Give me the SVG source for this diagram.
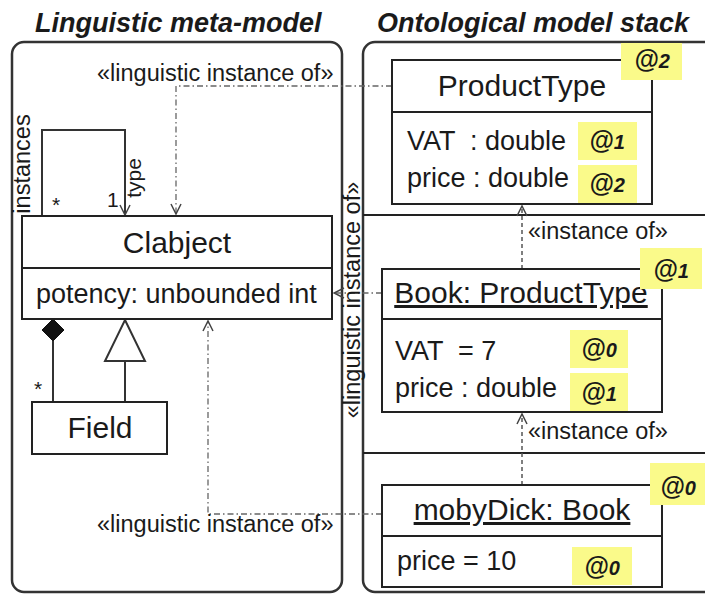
<svg xmlns="http://www.w3.org/2000/svg" width="705" height="594" viewBox="0 0 705 594">
<style>
text{font-family:"Liberation Sans",Arial,sans-serif;fill:#1a1a1a}
.title{font-size:27px;font-weight:bold;font-style:italic}
.cls{font-size:30px;text-anchor:middle}
.attr{font-size:27px;white-space:pre}
.st{font-size:23.5px}
.pot{font-size:25px;font-weight:bold;font-style:italic;text-anchor:middle}
.pot tspan{font-size:20px}
.small{font-size:21px}
.panel{fill:none;stroke:#333;stroke-width:2.5}
.box{fill:#fff;stroke:#222;stroke-width:2}
.div{stroke:#222;stroke-width:2}
.badge{fill:#fafa8a}
.ling{fill:none;stroke:#666;stroke-width:1.3;stroke-dasharray:6 3 1.5 3}
.inst{fill:none;stroke:#555;stroke-width:1.5;stroke-dasharray:4 3}
.solid{fill:none;stroke:#333;stroke-width:2}
</style>
<defs>
<marker id="open" viewBox="0 0 12 12" refX="11" refY="6" markerWidth="12" markerHeight="12" markerUnits="userSpaceOnUse" orient="auto">
<path d="M1,1 L11,6 L1,11" fill="none" stroke="#444" stroke-width="1.5"/>
</marker>
</defs>

<g id="titles">
<text class="title" x="35" y="32">Linguistic meta-model</text>
<text class="title" x="377" y="32">Ontological model stack</text>
</g>

<g id="panels">
<rect class="panel" x="12" y="42" width="330" height="550" rx="12"/>
<rect class="panel" x="363" y="42" width="370" height="550" rx="12"/>
<line class="div" x1="363" y1="215" x2="705" y2="215"/>
<line class="div" x1="363" y1="453" x2="705" y2="453"/>
</g>

<g id="connectors">
<path class="ling" d="M392,86 H176 V214" marker-end="url(#open)"/>
<path class="ling" d="M382,293 H334" marker-end="url(#open)"/>
<path class="ling" d="M382,514 H208 V321" marker-end="url(#open)"/>
<path class="inst" d="M522,269 V206" marker-end="url(#open)"/>
<path class="inst" d="M522,485 V414" marker-end="url(#open)"/>
<path class="solid" d="M42,216 V130 H125 V215" marker-end="url(#open)"/>
<path class="solid" d="M53,402 V340"/>
<polygon points="53,319 64,330 53,341 42,330" fill="#111" stroke="#111" stroke-width="1"/>
<path class="solid" d="M125,402 V361"/>
<polygon points="125,320 145,361 105,361" fill="#fff" stroke="#333" stroke-width="2"/>
<text class="small" x="52" y="212">*</text>
<text class="small" x="107" y="207">1</text>
<text class="small" x="34" y="396">*</text>
<text class="small" transform="translate(141,178) rotate(-90)" text-anchor="middle">type</text>
<text class="st" transform="translate(30,164) rotate(-90)" text-anchor="middle">instances</text>
<text class="st" x="97" y="81">«linguistic instance of»</text>
<text class="st" x="97" y="532">«linguistic instance of»</text>
<text class="st" transform="translate(360,300) rotate(-90)" text-anchor="middle">«linguistic instance of»</text>
<text class="st" x="528" y="239">«instance of»</text>
<text class="st" x="528" y="439">«instance of»</text>
</g>

<g id="clabject">
<rect class="box" x="22" y="216" width="310" height="103"/>
<line class="div" x1="22" y1="268" x2="332" y2="268"/>
<text class="cls" x="177" y="253">Clabject</text>
<text class="attr" x="36" y="303">potency: unbounded int</text>
</g>

<g id="field">
<rect class="box" x="32" y="402" width="135" height="52"/>
<text class="cls" x="100" y="438">Field</text>
</g>

<g id="productType">
<rect class="box" x="392" y="60" width="260" height="144"/>
<line class="div" x1="392" y1="112" x2="652" y2="112"/>
<text class="cls" x="522" y="96">ProductType</text>
<text class="attr" x="407" y="150">VAT  : double</text>
<text class="attr" x="407" y="187">price : double</text>
<rect class="badge" x="621" y="43" width="61" height="37"/>
<text class="pot" x="652" y="68">@<tspan>2</tspan></text>
<rect class="badge" x="578" y="122" width="59" height="38"/>
<text class="pot" x="607" y="149">@<tspan>1</tspan></text>
<rect class="badge" x="578" y="165" width="59" height="38"/>
<text class="pot" x="607" y="192">@<tspan>2</tspan></text>
</g>

<g id="book">
<rect class="box" x="382" y="269" width="280" height="143"/>
<line class="div" x1="382" y1="319" x2="662" y2="319"/>
<text class="cls" x="521" y="303" text-decoration="underline">Book: ProductType</text>
<text class="attr" x="395" y="360">VAT  = 7</text>
<text class="attr" x="395" y="397">price : double</text>
<rect class="badge" x="640" y="248" width="62" height="41"/>
<text class="pot" x="671" y="278">@<tspan>1</tspan></text>
<rect class="badge" x="570" y="330" width="58" height="38"/>
<text class="pot" x="599" y="357">@<tspan>0</tspan></text>
<rect class="badge" x="570" y="373" width="58" height="38"/>
<text class="pot" x="599" y="401">@<tspan>1</tspan></text>
</g>

<g id="mobyDick">
<rect class="box" x="382" y="485" width="280" height="102"/>
<line class="div" x1="382" y1="536" x2="662" y2="536"/>
<text class="cls" x="522" y="520" text-decoration="underline">mobyDick: Book</text>
<text class="attr" x="397" y="570">price = 10</text>
<rect class="badge" x="650" y="463" width="55" height="42"/>
<text class="pot" x="678" y="495">@<tspan>0</tspan></text>
<rect class="badge" x="572" y="547" width="60" height="38"/>
<text class="pot" x="602" y="575">@<tspan>0</tspan></text>
</g>
</svg>
